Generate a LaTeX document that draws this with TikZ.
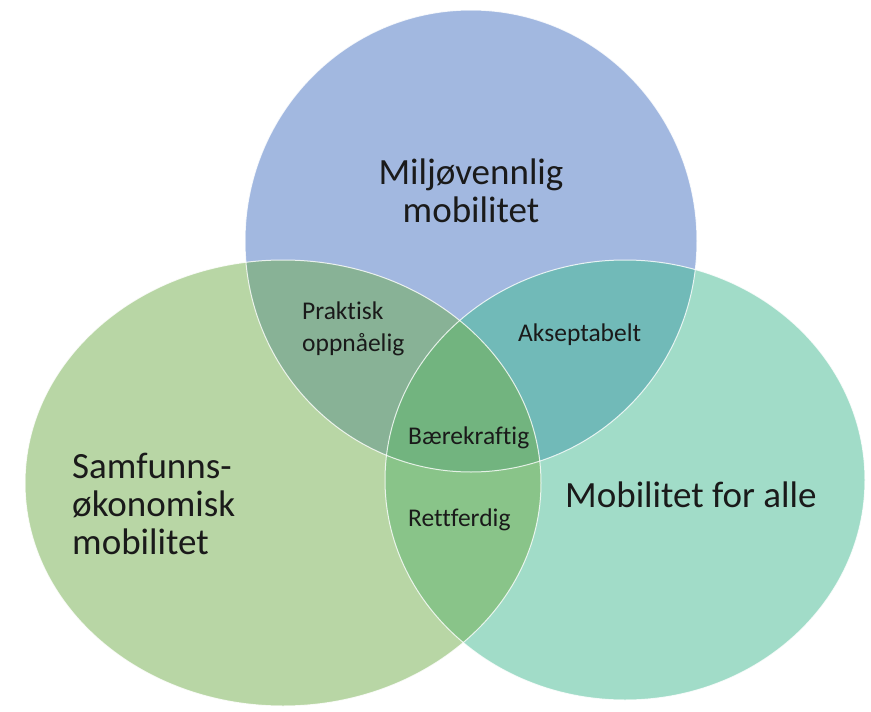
\documentclass[tikz,border=0pt]{standalone}
\usepackage{fontspec}
\setmainfont{Carlito}[Ligatures={NoCommon}]
\definecolor{cBlue}{HTML}{A2B8E0}
\definecolor{cGreen}{HTML}{B8D6A5}
\definecolor{cTeal}{HTML}{A1DCC8}
\definecolor{cBG}{HTML}{88B296}
\definecolor{cBT}{HTML}{71BAB8}
\definecolor{cGT}{HTML}{89C489}
\definecolor{cAll}{HTML}{72B47F}
\definecolor{cText}{HTML}{1A1A1A}
\tikzset{
  bigtxt/.style={text=cText, font=\fontsize{37}{38}\selectfont, inner sep=0pt},
  smalltxt/.style={text=cText, font=\fontsize{25.5}{32}\selectfont, inner sep=0pt},
  rim/.style={draw=white, line width=1pt, draw opacity=0.8}
}
\newcommand{\ellBlue}{(471,241) ellipse [x radius=226pt, y radius=231pt]}
\newcommand{\ellGreen}{(283,483) ellipse [x radius=258pt, y radius=223pt]}
\newcommand{\ellTeal}{(625,480) ellipse [x radius=240pt, y radius=220pt]}
\begin{document}
\begin{tikzpicture}[x=1pt,y=-1pt]
\useasboundingbox (0,0) rectangle (871,712);
\fill[cBlue] \ellBlue;
\fill[cGreen] \ellGreen;
\fill[cTeal] \ellTeal;
\begin{scope}\clip \ellBlue; \fill[cBG] \ellGreen; \end{scope}
\begin{scope}\clip \ellBlue; \fill[cBT] \ellTeal; \end{scope}
\begin{scope}\clip \ellGreen; \fill[cGT] \ellTeal; \end{scope}
\begin{scope}\clip \ellBlue; \clip \ellGreen; \fill[cAll] \ellTeal; \end{scope}
\draw[rim] \ellBlue;
\draw[rim] \ellGreen;
\draw[rim] \ellTeal;
\node[bigtxt, align=center] (mil) at (471,191) {Miljøvennlig\\mobilitet};
\node[bigtxt, align=left, anchor=west] (sam) at (72,504) {Samfunns-\\økonomisk\\mobilitet};
\node[bigtxt, anchor=west] (alle) at (565,495) {Mobilitet for alle};
\node[smalltxt, align=left, anchor=west] (prak) at (302,329) {Praktisk\\oppnåelig};
\node[smalltxt, anchor=west] (aks) at (518,335) {Akseptabelt};
\node[smalltxt, anchor=west] (baer) at (408,438) {Bærekraftig};
\node[smalltxt, anchor=west] (rett) at (408,520) {Rettferdig};
\end{tikzpicture}
\end{document}
